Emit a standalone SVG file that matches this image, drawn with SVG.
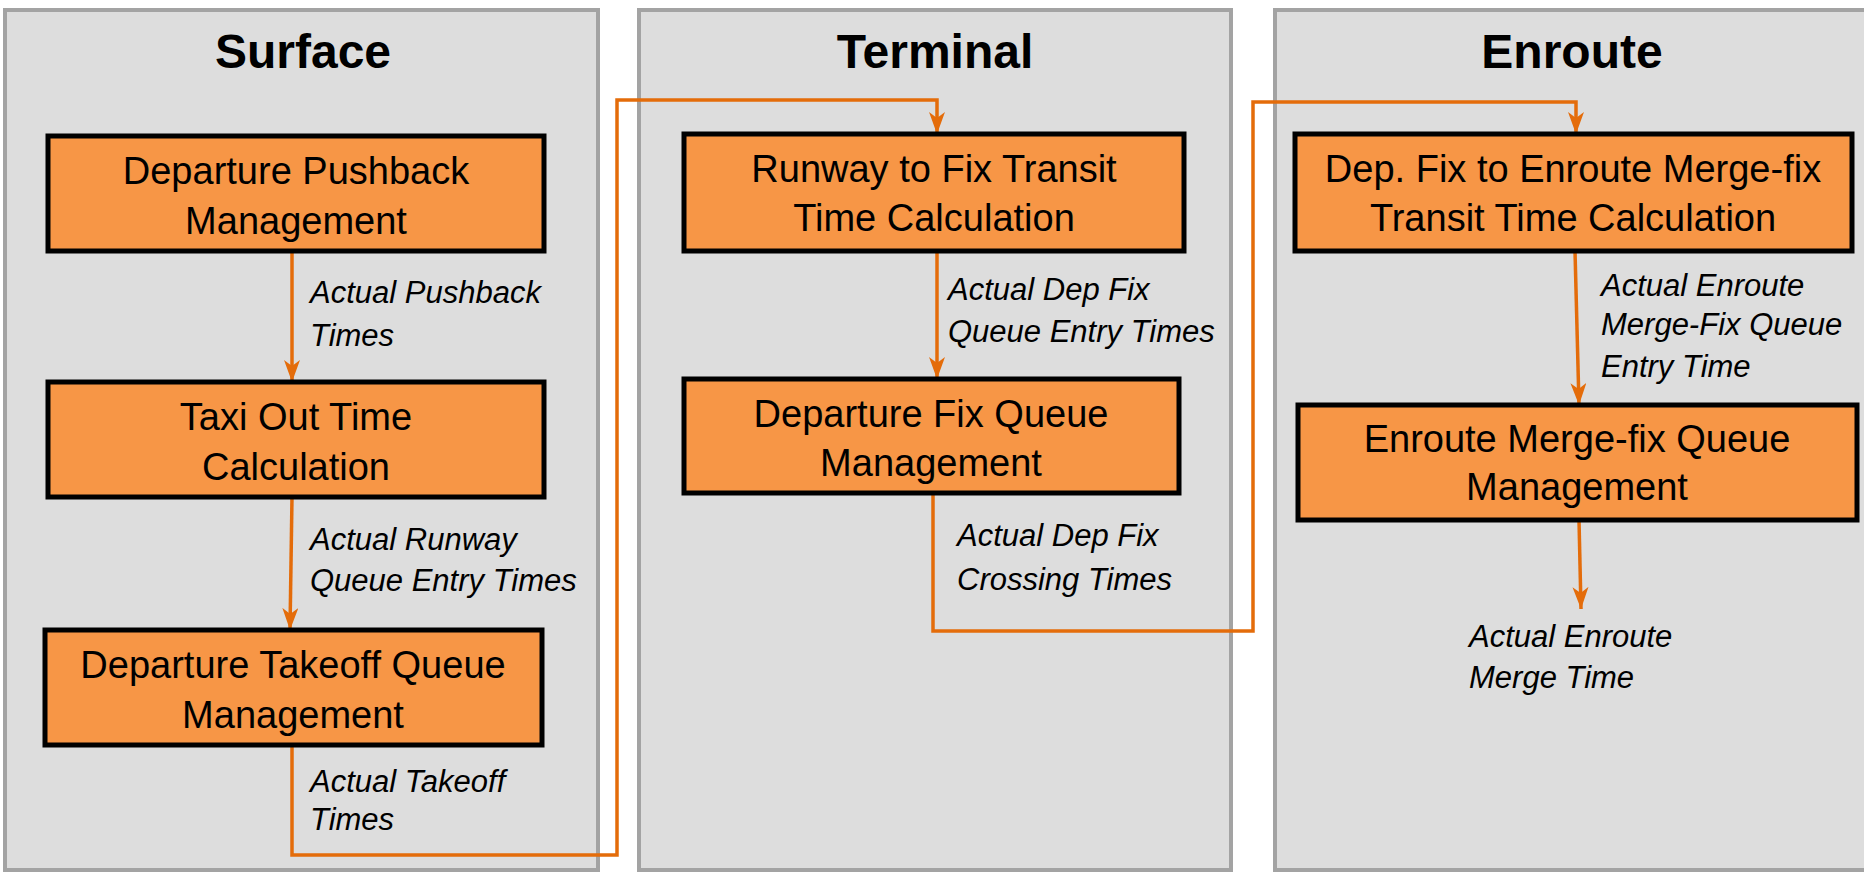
<svg xmlns="http://www.w3.org/2000/svg" width="1864" height="872" viewBox="0 0 1864 872">
<defs>
<style>
.panel{fill:#dddddd;stroke:#a3a3a3;stroke-width:4}
.title{font-family:"Liberation Sans",Arial,sans-serif;font-weight:bold;font-size:48px;fill:#000;text-anchor:middle}
.box{fill:#f79646;stroke:#000;stroke-width:5}
.bt{font-family:"Liberation Sans",Arial,sans-serif;font-size:38px;fill:#000;text-anchor:middle}
.lbl{font-family:"Liberation Sans",Arial,sans-serif;font-style:italic;font-size:31px;fill:#000}
.conn{fill:none;stroke:#e46c0a;stroke-width:3.5}
</style>
<marker id="arr" markerUnits="userSpaceOnUse" markerWidth="24" markerHeight="18" refX="22" refY="8" orient="auto">
<path d="M0,0 L22,8 L0,16 L6,8 z" fill="#e46c0a"/>
</marker>
</defs>
<rect width="1864" height="872" fill="#ffffff"/>
<g id="panel-surface">
<rect class="panel" x="5" y="10" width="593" height="860"/>
<text class="title" x="303" y="68">Surface</text>
</g>
<g id="panel-terminal">
<rect class="panel" x="639" y="10" width="592" height="860"/>
<text class="title" x="935" y="68">Terminal</text>
</g>
<g id="panel-enroute">
<rect class="panel" x="1275" y="10" width="600" height="860"/>
<text class="title" x="1572" y="68">Enroute</text>
</g>
<g id="connectors">
<line class="conn" x1="292" y1="251" x2="292" y2="382" marker-end="url(#arr)"/>
<line class="conn" x1="292" y1="497" x2="290" y2="630" marker-end="url(#arr)"/>
<polyline class="conn" points="292,745 292,855 617,855 617,100 937,100 937,134" marker-end="url(#arr)"/>
<line class="conn" x1="937" y1="251" x2="937" y2="379" marker-end="url(#arr)"/>
<polyline class="conn" points="933,493 933,631 1253,631 1253,102 1576,102 1576,134" marker-end="url(#arr)"/>
<line class="conn" x1="1575" y1="251" x2="1579" y2="405" marker-end="url(#arr)"/>
<line class="conn" x1="1579" y1="520" x2="1581" y2="609" marker-end="url(#arr)"/>
<text class="lbl" x="310" y="303">Actual Pushback</text>
<text class="lbl" x="310" y="346">Times</text>
<text class="lbl" x="310" y="550">Actual Runway</text>
<text class="lbl" x="310" y="591">Queue Entry Times</text>
<text class="lbl" x="310" y="792">Actual Takeoff</text>
<text class="lbl" x="310" y="830">Times</text>
<text class="lbl" x="948" y="300">Actual Dep Fix</text>
<text class="lbl" x="948" y="342">Queue Entry Times</text>
<text class="lbl" x="957" y="546">Actual Dep Fix</text>
<text class="lbl" x="957" y="590">Crossing Times</text>
<text class="lbl" x="1601" y="296">Actual Enroute</text>
<text class="lbl" x="1601" y="335">Merge-Fix Queue</text>
<text class="lbl" x="1601" y="377">Entry Time</text>
<text class="lbl" x="1469" y="647">Actual Enroute</text>
<text class="lbl" x="1469" y="688">Merge Time</text>
</g>
<g id="node-pushback">
<rect class="box" x="48" y="136" width="496" height="115"/>
<text class="bt" x="296" y="184">Departure Pushback</text>
<text class="bt" x="296" y="234">Management</text>
</g>
<g id="node-taxiout">
<rect class="box" x="48" y="382" width="496" height="115"/>
<text class="bt" x="296" y="430">Taxi Out Time</text>
<text class="bt" x="296" y="480">Calculation</text>
</g>
<g id="node-takeoff">
<rect class="box" x="45" y="630" width="497" height="115"/>
<text class="bt" x="293" y="678">Departure Takeoff Queue</text>
<text class="bt" x="293" y="728">Management</text>
</g>
<g id="node-runway-fix">
<rect class="box" x="684" y="134" width="500" height="117"/>
<text class="bt" x="934" y="182">Runway to Fix Transit</text>
<text class="bt" x="934" y="231">Time Calculation</text>
</g>
<g id="node-depfix-queue">
<rect class="box" x="684" y="379" width="495" height="114"/>
<text class="bt" x="931" y="427">Departure Fix Queue</text>
<text class="bt" x="931" y="476">Management</text>
</g>
<g id="node-depfix-merge">
<rect class="box" x="1295" y="134" width="557" height="117"/>
<text class="bt" x="1573" y="182">Dep. Fix to Enroute Merge-fix</text>
<text class="bt" x="1573" y="231">Transit Time Calculation</text>
</g>
<g id="node-merge-queue">
<rect class="box" x="1298" y="405" width="559" height="115"/>
<text class="bt" x="1577" y="452">Enroute Merge-fix Queue</text>
<text class="bt" x="1577" y="500">Management</text>
</g>
</svg>
